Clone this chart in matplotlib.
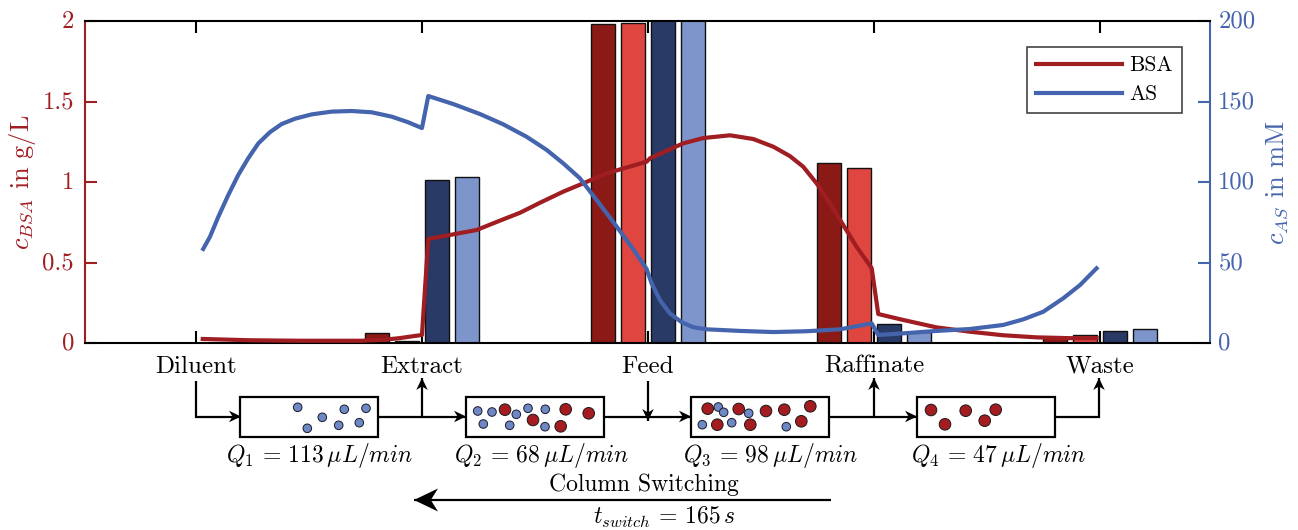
import numpy as np
import matplotlib
matplotlib.use("Agg")
import matplotlib.pyplot as plt
from matplotlib.patches import Rectangle, Circle, Polygon
from matplotlib.transforms import ScaledTranslation

plt.rcParams['font.family'] = ['cmr10', 'DejaVu Sans']
plt.rcParams['mathtext.fontset'] = 'cm'
plt.rcParams['axes.unicode_minus'] = False
plt.rcParams['axes.formatter.use_mathtext'] = True

# concentration profile along the columns (x in column lengths)
bsa_x = [0.03, 0.24, 0.46, 0.73, 0.83, 0.90, 1.0, 1.028, 1.139, 1.242, 1.345, 1.434, 1.522, 1.625,
         1.714, 1.817, 1.994, 2.009, 2.083, 2.156, 2.245, 2.363, 2.466, 2.555, 2.628, 2.687,
         2.746, 2.805, 2.864, 2.923, 2.99, 3.019, 3.13, 3.277, 3.425, 3.572, 3.72, 3.867, 3.985]
bsa_y = [0.025, 0.017, 0.014, 0.014, 0.02, 0.03, 0.05, 0.646, 0.675, 0.702, 0.76, 0.809, 0.871,
         0.94, 0.992, 1.054, 1.126, 1.147, 1.194, 1.24, 1.273, 1.29, 1.267, 1.219, 1.161, 1.095,
         0.992, 0.868, 0.733, 0.598, 0.465, 0.18, 0.143, 0.097, 0.07, 0.048, 0.035, 0.03, 0.03]
as_x = [0.032, 0.062, 0.099, 0.143, 0.187, 0.231, 0.276, 0.327, 0.379, 0.438, 0.512, 0.6, 0.689,
        0.777, 0.866, 0.939, 1.0, 1.028, 1.139, 1.257, 1.36, 1.463, 1.552, 1.625, 1.699, 1.773,
        1.862, 1.935, 1.994, 2.016, 2.053, 2.097, 2.149, 2.2, 2.26, 2.407, 2.555, 2.702, 2.85,
        2.99, 3.019, 3.13, 3.277, 3.425, 3.572, 3.661, 3.749, 3.838, 3.912, 3.985]
as_y = [58.4, 66, 78.4, 91.9, 104.3, 114.7, 124, 130.9, 136, 139.3, 142, 143.7, 144.1, 143.3,
        140.6, 137.1, 133.5, 153.4, 148.4, 142.2, 135.8, 128.1, 119.9, 111.6, 102.3, 88.8, 72.2,
        58.2, 46, 37.1, 26.7, 18.4, 12.9, 9.8, 8.5, 7.5, 6.8, 7.3, 8.5, 12.2, 5, 6, 7.5, 8.7,
        11.2, 14.7, 19.4, 27.8, 36, 46.4]

# measured samples at the ports
ports = ['Diluent', 'Extract', 'Feed', 'Raffinate', 'Waste']
bar_ports = [1, 2, 3, 4]
bsa_sim = [0.06, 1.98, 1.12, 0.03]
bsa_exp = [0.01, 1.99, 1.09, 0.05]
as_sim = [101, 206, 11.5, 7.2]
as_exp = [103, 210, 7, 8.8]

flow_labels = [r'$Q_1\, =\, 113\,\mu L/min$', r'$Q_2\, =\, 68\,\mu L/min$',
               r'$Q_3\, =\, 98\,\mu L/min$', r'$Q_4\, =\, 47\,\mu L/min$']

# particles in the column sketch, in pixels
col_left = [240, 466, 691, 917]
as_dots = [(297.7, 407.3), (322.3, 417.3), (344.3, 409.3), (366, 408.3), (307.3, 428.3),
           (338.7, 425.3), (359.3, 422.7),
           (477.7, 411), (492, 412), (516.3, 414.3), (528, 408.3), (545.3, 409.3), (483.3, 424),
           (509.7, 425.3), (545, 426.7),
           (718.3, 407), (723.7, 412.3), (748.7, 413.3), (702.3, 424.7), (731.7, 422.7),
           (786.3, 426.7)]
bsa_dots = [(505, 409.7), (533, 420), (565.7, 409.3), (588.7, 413.3), (560.7, 426.3),
            (707.7, 408.7), (738.7, 409), (766, 411), (784.3, 409.7), (810.3, 406.3),
            (717.3, 424.7), (750.3, 424.7), (801.3, 421.3),
            (931, 410), (965.7, 410.7), (995.7, 409.7), (945, 424.3), (984.7, 420.7)]

RED = '#A01D22'
BLUE = '#4464AD'
W, H = 1298, 530
bar_w = 0.107
offs = [-0.2, -0.0664, 0.0664, 0.2]

fig = plt.figure(figsize=(W / 100, H / 100), dpi=100)
ax = fig.add_axes([85 / W, 1 - 343 / H, (1210 - 85) / W, (343 - 21) / H])

pos = np.array(bar_ports, dtype=float)
ax.bar(pos + offs[0], bsa_sim, bar_w, color='#8B1A16', edgecolor='#111111', lw=1, zorder=2)
ax.bar(pos + offs[1], bsa_exp, bar_w, color='#DF4640', edgecolor='#111111', lw=1, zorder=2)
ax.bar(pos + offs[2], np.array(as_sim) / 100, bar_w, color='#293A66', edgecolor='#111111', lw=1, zorder=2)
ax.bar(pos + offs[3], np.array(as_exp) / 100, bar_w, color='#7E95CC', edgecolor='#111111', lw=1, zorder=2)

l1, = ax.plot(bsa_x, bsa_y, color=RED, lw=3, zorder=3, label='BSA')
l2, = ax.plot(as_x, np.array(as_y) / 100, color=BLUE, lw=3, zorder=4, label='AS')

ax.set_xlim(-0.491, 4.487)
ax.set_ylim(0, 2)
ax.set_xticks(range(5))
ax.set_xticklabels(ports, fontsize=18)
ax.tick_params(axis='x', direction='in', length=8.5, width=1.5, top=True, pad=9, color='k')
ax.set_yticks([0, 0.5, 1, 1.5, 2])
ax.set_yticklabels(['0', '0.5', '1', '1.5', '2'], fontsize=17.8)
ax.tick_params(axis='y', direction='in', length=8.5, width=1.5, colors=RED, pad=8)
ax.set_ylabel(r'$c_{BSA}$ in g/L', color=RED, fontsize=19, labelpad=3)
for s in ['top', 'bottom']:
    ax.spines[s].set_linewidth(1.5)
ax.spines['left'].set_color(RED)
ax.spines['left'].set_linewidth(1.5)
ax.spines['right'].set_visible(False)

sec = ax.secondary_yaxis('right', functions=(lambda v: v * 100, lambda v: v / 100))
sec.set_yticks([0, 50, 100, 150, 200])
sec.set_yticklabels(['0', '50', '100', '150', '200'], fontsize=17.8)
sec.tick_params(axis='y', direction='in', length=8.5, width=1.5, colors=BLUE, pad=6)
sec.spines['right'].set_color(BLUE)
sec.spines['right'].set_linewidth(1.5)
sec.set_ylabel(r'$c_{AS}$ in mM', color=BLUE, fontsize=19, labelpad=6)

# tick labels sit a little above their ticks
lift = ScaledTranslation(0, 2 / 100, fig.dpi_scale_trans)
for lab in ax.get_yticklabels() + sec.get_yticklabels():
    lab.set_transform(lab.get_transform() + lift)

leg = ax.legend(handles=[l1, l2], loc='upper left', bbox_to_anchor=(0.8375, 0.9195), fontsize=15.5,
                fancybox=False, framealpha=1, edgecolor='#444444', handlelength=4.0,
                labelspacing=0.42, borderpad=0.42, handletextpad=0.32, borderaxespad=0)
leg.get_frame().set_linewidth(1.2)

# column sketch below the axes, in pixels
sk = fig.add_axes([0, 0, 1, 1], facecolor='none')
sk.set_xlim(0, W)
sk.set_ylim(H, 0)
sk.axis('off')


def arrow(xs, ys, size=12, lw=1.6):
    sk.plot(xs, ys, color='k', lw=lw, solid_joinstyle='miter', solid_capstyle='butt', zorder=2)
    x, y = xs[-1], ys[-1]
    dx, dy = np.sign(xs[-1] - xs[-2]), np.sign(ys[-1] - ys[-2])
    px, py = -dy, dx
    sk.add_patch(Polygon([(x, y),
                          (x - dx * size + px * size * 0.48, y - dy * size + py * size * 0.48),
                          (x - dx * size * 0.7, y - dy * size * 0.7),
                          (x - dx * size - px * size * 0.48, y - dy * size - py * size * 0.48)],
                         closed=True, color='k', lw=0, zorder=3))


flow_y = 416.5
arrow([196, 196, 241], [381, flow_y, flow_y])
arrow([378, 466], [flow_y, flow_y])
arrow([422, 422], [flow_y, 378])
arrow([604, 691], [flow_y, flow_y])
arrow([648, 648], [381, 421])
arrow([829, 917], [flow_y, flow_y])
arrow([874, 874], [flow_y, 378])
arrow([1055, 1099, 1099], [flow_y, flow_y, 378])

for left, lab, cx in zip(col_left, flow_labels, [320, 542, 771, 999]):
    sk.add_patch(Rectangle((left, 397), 138, 39.5, fc='none', ec='k', lw=1.6, zorder=4))
    sk.text(cx, 456, lab, fontsize=17, ha='center', va='center')

for x, y in as_dots:
    sk.add_patch(Circle((x, y), 4.3, fc='#6E88C4', ec='#1a1a2e', lw=0.7, zorder=5))
for x, y in bsa_dots:
    sk.add_patch(Circle((x, y), 5.8, fc='#A51C20', ec='#1a1a1a', lw=0.7, zorder=6))

arrow([831, 414], [500, 500], size=24, lw=1.6)
sk.text(644, 485, 'Column Switching', fontsize=17, ha='center', va='center')
sk.text(664, 517, r'$t_{switch}\, =\, 165\,s$', fontsize=17, ha='center', va='center')

fig.savefig('out.png', dpi=100)
